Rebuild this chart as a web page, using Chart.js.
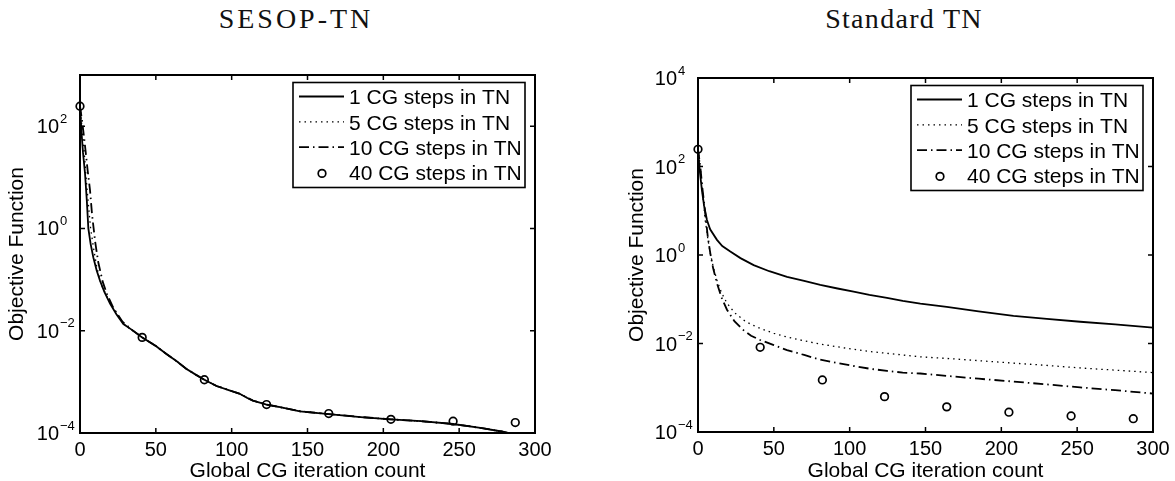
<!DOCTYPE html>
<html>
<head>
<meta charset="utf-8">
<script src="https://cdn.jsdelivr.net/npm/chart.js@4/dist/chart.umd.min.js"></script>
<style>
  html, body { margin: 0; padding: 0; background: #fff; overflow: hidden; width: 1175px; height: 481px; }
  .panel { position: absolute; top: 0; }
  .caption { position: absolute; top: 5px; width: 300px; text-align: center; color: #111;
             font: 28px/28px "Liberation Serif", "DejaVu Serif", serif; white-space: nowrap; }
</style>
</head>
<body>
<div class="caption" style="left:146px;letter-spacing:3px">SESOP-TN</div>
<div class="caption" style="left:754px;letter-spacing:1.3px">Standard TN</div>
<div class="panel" style="left:0px"><canvas id="sesop" width="592" height="481"></canvas></div>
<div class="panel" style="left:620px"><canvas id="standard" width="555" height="481"></canvas></div>
<script>
var FAMILY = '"Liberation Sans", Arial, Helvetica, sans-serif';
Chart.defaults.font.family = FAMILY;
Chart.defaults.color = '#000';

// legend labels
var seriesNames = ['1 CG steps in TN', '5 CG steps in TN', '10 CG steps in TN', '40 CG steps in TN'];

// y tick exponents (labels are 10^n)
var sesopExps = [-4, -2, 0, 2];
var standardExps = [-4, -2, 0, 2, 4];

// 40 CG steps: one marker per outer iteration
var circleIters = [0, 41, 82, 123, 164, 205, 246, 287];
var sesopCg40 = [245, 0.0074, 0.0011, 0.00036, 0.00024, 0.000185, 0.00017, 0.00016];
var standardCg40 = [245, 0.0082, 0.0015, 0.00063, 0.00037, 0.00028, 0.00023, 0.0002];

// SESOP-TN curves
var sesopIters1 = [0, 1, 2, 3.3, 4.5, 5.5, 7, 8.8, 11, 13.2, 16, 19.8, 24, 28.6, 34, 41, 50, 57, 64, 70, 76, 82, 90, 98, 105, 110, 114, 123, 132, 145, 164, 185, 205, 225, 246, 264, 278, 292];
var sesopCg1 = [245, 75, 30, 12, 3.5, 1.0, 0.5, 0.27, 0.15, 0.095, 0.058, 0.034, 0.021, 0.0135, 0.0105, 0.0074, 0.005, 0.0035, 0.0025, 0.0018, 0.0014, 0.0011, 0.00083, 0.00069, 0.00059, 0.00049, 0.00043, 0.00036, 0.00032, 0.000265, 0.000235, 0.000205, 0.000185, 0.00017, 0.00015, 0.000126, 0.000107, 0.000085];
var sesopIters5 = [0, 1.2, 2.5, 4, 5.5, 7, 9, 11, 14, 18, 24, 30, 36, 41, 50, 57, 64, 70, 76, 82, 90, 98, 105, 114, 123, 132, 145, 164, 185, 205, 225, 246, 264, 278, 292];
var sesopCg5 = [245, 100, 40, 10, 3, 1.0, 0.4, 0.18, 0.08, 0.045, 0.022, 0.0125, 0.0095, 0.0074, 0.0051, 0.0035, 0.0025, 0.0018, 0.0014, 0.0011, 0.00084, 0.00069, 0.00059, 0.00043, 0.00036, 0.00032, 0.00027, 0.000235, 0.000205, 0.000185, 0.00017, 0.00015, 0.000126, 0.000107, 0.000085];
var sesopIters10 = [0, 1.5, 3, 5, 6.6, 8, 10, 12, 15, 18, 22, 28, 34, 41, 50, 57, 64, 70, 76, 82, 90, 98, 105, 114, 123, 132, 145, 164, 185, 205, 225, 246, 264, 278, 292];
var sesopCg10 = [245, 120, 50, 14, 5.6, 1.8, 0.55, 0.22, 0.09, 0.05, 0.028, 0.015, 0.0105, 0.0074, 0.005, 0.0035, 0.0025, 0.0018, 0.0014, 0.0011, 0.00083, 0.00069, 0.00059, 0.00043, 0.00036, 0.00032, 0.000265, 0.000235, 0.000205, 0.000185, 0.00017, 0.00015, 0.000126, 0.000107, 0.000085];

// Standard TN curves
var standardIters1 = [0, 1, 2.6, 4, 5.9, 8, 12.5, 16, 21.3, 28, 36.7, 47, 58.7, 70, 80.6, 92, 102.6, 113, 124.6, 135, 146.6, 164, 185, 208, 230, 252, 275, 300];
var standardCg1 = [245, 90, 29, 13, 6.2, 3.8, 2.2, 1.6, 1.2, 0.85, 0.59, 0.43, 0.32, 0.26, 0.21, 0.175, 0.148, 0.125, 0.108, 0.092, 0.08, 0.067, 0.053, 0.042, 0.036, 0.031, 0.027, 0.0228];
var standardIters = [0, 1.5, 3, 4.8, 6.5, 8.1, 10, 12.5, 15.5, 19.1, 24, 30, 35, 41, 50, 58.7, 70, 80.6, 92, 102.6, 113, 124.6, 135, 146.6, 164, 185, 208, 230, 252, 275, 300];
var standardCg5 = [245, 100, 25, 6, 2.3, 1.1, 0.55, 0.27, 0.14, 0.082, 0.05, 0.034, 0.027, 0.022, 0.017, 0.014, 0.0115, 0.0097, 0.0084, 0.0074, 0.0066, 0.006, 0.0055, 0.005, 0.0046, 0.0041, 0.0036, 0.0032, 0.0028, 0.0025, 0.0022];
var standardCg10 = [245, 100, 30, 8.7, 2.5, 1.1, 0.5, 0.23, 0.11, 0.058, 0.032, 0.02, 0.015, 0.012, 0.0092, 0.0071, 0.0055, 0.0043, 0.0036, 0.0031, 0.0027, 0.0024, 0.0022, 0.0021, 0.00185, 0.0016, 0.00138, 0.00119, 0.00102, 0.00088, 0.00074];

function pts(xs, ys) {
  return xs.map(function (x, i) { return {x: x, y: ys[i]}; });
}

// MATLAB-looking box: inward ticks on all sides, 10^n labels, boxed legend
var matlabAxes = {
  id: 'matlabAxes',
  afterDatasetsDraw: function (chart, args, opts) {
    var ctx = chart.ctx, a = chart.chartArea;
    var xs = chart.scales.x, ys = chart.scales.y;
    ctx.save();
    ctx.strokeStyle = '#000';
    ctx.lineWidth = 1.5;
    ctx.beginPath();
    xs.ticks.forEach(function (t) {
      var px = xs.getPixelForValue(t.value);
      ctx.moveTo(px, a.bottom); ctx.lineTo(px, a.bottom - 5);
      ctx.moveTo(px, a.top); ctx.lineTo(px, a.top + 5);
    });
    ys.ticks.forEach(function (t) {
      var py = ys.getPixelForValue(t.value);
      ctx.moveTo(a.left, py); ctx.lineTo(a.left + 5, py);
      ctx.moveTo(a.right, py); ctx.lineTo(a.right - 5, py);
    });
    ctx.stroke();
    ctx.lineWidth = 2;
    ctx.strokeRect(a.left, a.top, a.right - a.left, a.bottom - a.top);

    // y tick labels as 10 with a raised exponent
    ctx.fillStyle = '#000';
    ctx.textBaseline = 'middle';
    opts.exps.forEach(function (e) {
      var py = ys.getPixelForValue(Math.pow(10, e));
      var xr = a.left - 21;
      ctx.font = '20px ' + FAMILY;
      ctx.textAlign = 'right';
      ctx.fillText('10', xr, py + 1.5);
      ctx.font = '13px ' + FAMILY;
      ctx.textAlign = 'left';
      ctx.fillText(e < 0 ? '\u2212' + (-e) : String(e), xr + 1, py - 7);
    });
    ctx.restore();
  },
  afterDraw: function (chart) {
    var ctx = chart.ctx, a = chart.chartArea;
    var w = 232, h = 105;
    var bx = a.right - 10 - w, by = a.top + 7.5;
    ctx.save();
    ctx.fillStyle = '#fff';
    ctx.fillRect(bx, by, w, h);
    ctx.strokeStyle = '#000';
    ctx.lineWidth = 1.6;
    ctx.strokeRect(bx, by, w, h);
    chart.data.datasets.forEach(function (ds, i) {
      var cy = by + 15 + i * 25.3;
      ctx.strokeStyle = '#000';
      if (ds.showLine === false) {
        ctx.setLineDash([]);
        ctx.lineWidth = ds.pointBorderWidth;
        ctx.beginPath();
        ctx.arc(bx + 29, cy, ds.pointRadius, 0, Math.PI * 2);
        ctx.stroke();
      } else {
        ctx.setLineDash(ds.borderDash || []);
        ctx.lineWidth = ds.borderWidth;
        ctx.beginPath();
        ctx.moveTo(bx + 6, cy - 1);
        ctx.lineTo(bx + 51, cy - 1);
        ctx.stroke();
      }
      ctx.setLineDash([]);
      ctx.fillStyle = '#000';
      ctx.font = '21px ' + FAMILY;
      ctx.textAlign = 'left';
      ctx.textBaseline = 'middle';
      ctx.fillText(ds.label, bx + 56, cy + 1);
    });
    ctx.restore();
  }
};

function makeDatasets(c1, c5, c10, c40) {
  var line = {borderColor: '#000', pointRadius: 0, tension: 0, fill: false, borderCapStyle: 'butt'};
  return [
    Object.assign({label: seriesNames[0], data: c1, borderWidth: 1.8}, line),
    Object.assign({label: seriesNames[1], data: c5, borderWidth: 1.3, borderDash: [1.5, 4]}, line),
    Object.assign({label: seriesNames[2], data: c10, borderWidth: 1.8, borderDash: [10, 4, 1.5, 4]}, line),
    {label: seriesNames[3], data: c40, showLine: false, pointRadius: 3.8, pointBorderWidth: 1.7,
     pointBackgroundColor: 'rgba(0,0,0,0)', pointBorderColor: '#000', borderColor: '#000', clip: false}
  ];
}

function makeChart(id, datasets, yMax, exps, box) {
  return new Chart(document.getElementById(id), {
    type: 'line',
    data: {datasets: datasets},
    plugins: [matlabAxes],
    options: {
      responsive: false,
      animation: false,
      devicePixelRatio: 1,
      layout: {padding: {top: box.top, right: box.right, left: 0, bottom: 0}},
      plugins: {
        legend: {display: false},
        tooltip: {enabled: false},
        matlabAxes: {exps: exps}
      },
      scales: {
        x: {
          type: 'linear', min: 0, max: 300,
          grid: {display: false, drawTicks: false}, border: {display: false},
          ticks: {stepSize: 50, maxRotation: 0, padding: 5, font: {size: 20}},
          title: {display: true, text: 'Global CG iteration count', font: {size: 21, lineHeight: 1}, padding: {top: 0, bottom: -1}},
          afterFit: function (s) { s.height = box.xHeight; }
        },
        y: {
          type: 'logarithmic', min: 1e-4, max: yMax,
          grid: {display: false, drawTicks: false}, border: {display: false},
          ticks: {display: false},
          title: {display: true, text: 'Objective Function', font: {size: 21, lineHeight: 1}, padding: {top: 6.5, bottom: 0}},
          afterBuildTicks: function (s) {
            s.ticks = exps.map(function (e) { return {value: Math.pow(10, e)}; });
          },
          afterFit: function (s) { s.width = box.yWidth; }
        }
      }
    }
  });
}

makeChart('sesop',
  makeDatasets(pts(sesopIters1, sesopCg1), pts(sesopIters5, sesopCg5), pts(sesopIters10, sesopCg10), pts(circleIters, sesopCg40)),
  1e3, sesopExps, {top: 75, right: 57, yWidth: 80, xHeight: 48});

makeChart('standard',
  makeDatasets(pts(standardIters1, standardCg1), pts(standardIters, standardCg5), pts(standardIters, standardCg10), pts(circleIters, standardCg40)),
  1e4, standardExps, {top: 78, right: 22, yWidth: 78, xHeight: 49});
</script>
</body>
</html>
